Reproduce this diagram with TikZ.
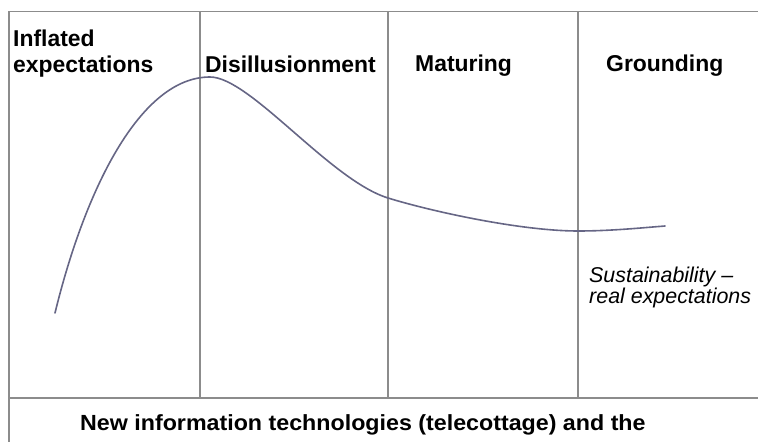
\documentclass[tikz,border=0pt]{standalone}
\usepackage{fontspec}
\setmainfont{Liberation Sans}
\begin{document}
\begin{tikzpicture}[x=1bp,y=-1bp,
  gridline/.style={draw=black!45, line width=1.4bp},
  curveline/.style={draw=blue!20!black!60, line width=1.6bp, line join=round, line cap=round},
  phase/.style={inner sep=0pt, anchor=base west, align=left,
    font=\bfseries\fontsize{23}{27}\selectfont},
  note/.style={inner sep=0pt, anchor=base west, align=left,
    font=\itshape\fontsize{21.5}{22}\selectfont}]
  \useasboundingbox (0,0) rectangle (758,442);
  \clip (0,0) rectangle (758,442);
  % frame and phase separators
  \coordinate (tl) at (9,11.5);
  \coordinate (tr) at (760,11.5);
  \coordinate (bl) at (9,444);
  \coordinate (ml) at (9,398);
  \coordinate (mr) at (760,398);
  \draw[gridline] (tr) -- (tl) -- (bl);
  \draw[gridline] (ml) -- (mr);
  \foreach \x/\n in {200/a,388/b,578/c}{
    \coordinate (\n top) at (\x,11.5);
    \coordinate (\n bot) at (\x,398);
    \draw[gridline] (\n top) -- (\n bot);
  }
  % hype curve: rise, peak, slide and plateau
  \coordinate (start) at (55,313);
  \coordinate (peak) at (210,77);
  \coordinate (slide) at (388,198);
  \coordinate (trough) at (578,231);
  \coordinate (plateau) at (665,226);
  \draw[curveline] (start)
    .. controls (85,190) and (140,77) .. (peak)
    .. controls (250,77) and (330,180) .. (slide)
    .. controls (430,211) and (520,231) .. (trough)
    .. controls (610,231) and (640,228) .. (plateau);
  % phase labels
  \node[phase] (inflated) at (13,73) {Inflated\\expectations};
  \node[phase] (disill) at (205,73) {Disillusionment};
  \node[phase] (maturing) at (415,72) {Maturing};
  \node[phase] (grounding) at (606,72) {Grounding};
  \node[note] (sustain) at (589,304) {Sustainability --\\real expectations};
  \node[phase, font=\bfseries\fontsize{22}{25}\selectfont] (caption) at (80,430)
    {\scalebox{1.06}[1]{New information technologies (telecottage) and the}};
\end{tikzpicture}
\end{document}
